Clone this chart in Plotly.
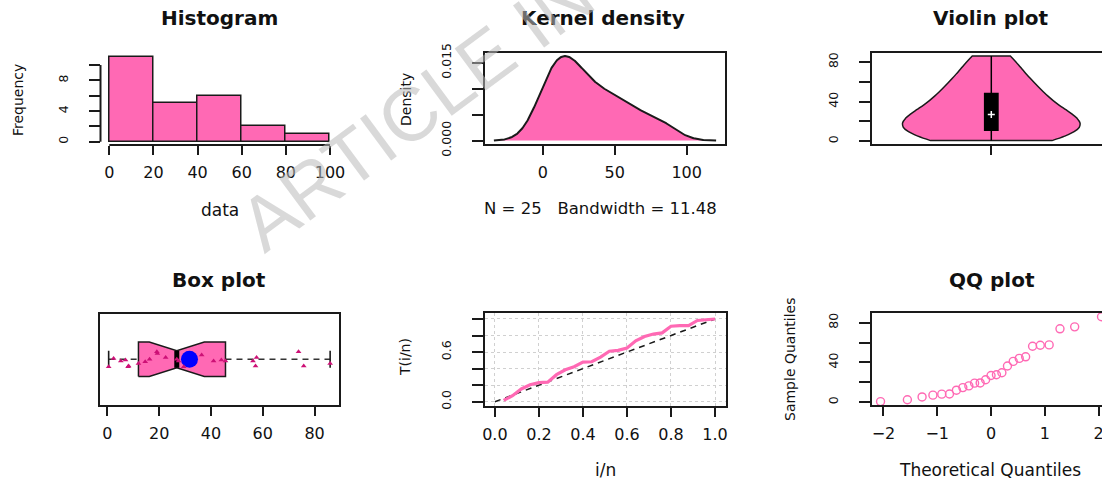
import numpy as np
import plotly.graph_objects as go
from statistics import NormalDist

# ---------------- data ----------------
values = [0.5, 2.4, 5.2, 7.0, 8.0, 8.2, 12.0, 14.6, 16.3, 19.1, 19.3, 22.5, 26.8,
          27.5, 29.5, 36.4, 41.0, 44.0, 45.6, 56.2, 57.2, 57.6, 73.8, 75.8, 86.0]
jitter = [-0.09, 0.01, -0.02, -0.01, -0.09, -0.08, -0.05, -0.03, 0.0, 0.09, 0.07,
          0.02, 0.0, -0.02, -0.09, 0.05, -0.02, -0.01, -0.02, -0.02, -0.08, 0.02,
          0.09, -0.08, -0.05]
bandwidth = 11.48
hist_edges = [0, 100, 20]
hist_xticks = [0, 20, 40, 60, 80, 100]
freq_ticks = [0, 2, 4, 6, 8, 10]
freq_labels = ["0", "", "4", "", "8", ""]
dens_xticks = [0, 50, 100]
dens_yticks = [0.0, 0.005, 0.010, 0.015]
dens_ylabels = ["0.000", "", "", "0.015"]
q_ticks = [0, 20, 40, 60, 80]
q_labels = ["0", "", "40", "", "80"]
box_xticks = [0, 20, 40, 60, 80]
ttt_xticks = [0.0, 0.2, 0.4, 0.6, 0.8, 1.0]
ttt_xlabels = ["0.0", "0.2", "0.4", "0.6", "0.8", "1.0"]
ttt_yticks = [0.0, 0.2, 0.4, 0.6, 0.8, 1.0]
ttt_ylabels = ["0.0", "", "", "0.6", "", ""]
qq_xticks = [-2, -1, 0, 1, 2]
diag = [0.0, 1.0]

PINK = "#FF69B4"
DARK = "#1a1a1a"
FONT = "DejaVu Sans"
W, H = 1102, 479

# ---------------- derived statistics ----------------
x = np.array(sorted(values))
n = len(x)
grid = np.linspace(x.min() - 3 * bandwidth, x.max() + 3 * bandwidth, 512)
dens = np.exp(-0.5 * ((grid[:, None] - x[None, :]) / bandwidth) ** 2).sum(axis=1) / (
    n * bandwidth * np.sqrt(2 * np.pi))

idx = np.arange(1, n + 1)
ttt_t = (np.cumsum(x) + (n - idx) * x) / x.sum()
ttt_p = idx / n

theo = np.array([NormalDist().inv_cdf((i - 0.5) / n) for i in idx])


def fivenum(v):
    v = np.sort(v)
    m = len(v)
    n4 = np.floor((m + 3) / 2) / 2
    d = np.array([1, n4, (m + 1) / 2, m + 1 - n4, m])
    return 0.5 * (v[np.floor(d).astype(int) - 1] + v[np.ceil(d).astype(int) - 1])


vmin, q1, med, q3, vmax = fivenum(x)
notch = 1.58 * (q3 - q1) / np.sqrt(n)
mean = x.mean()


def pad(lo, hi, f=0.04):
    d = (hi - lo) * f
    return [lo - d, hi + d]


# ---------------- pixel layout helpers ----------------
def dx(a, b):
    return [a / W, b / W]


def dy(top, bot):
    return [1 - bot / H, 1 - top / H]


def base_axis(**kw):
    a = dict(showgrid=False, zeroline=False, ticks="outside", ticklen=9, tickwidth=1.5,
             tickcolor=DARK, linecolor=DARK, linewidth=2, showline=True, automargin=False,
             tickfont=dict(family=FONT, size=16, color="#111"), fixedrange=True,
             ticklabelstandoff=4)
    a.update(kw)
    return a


def y_axis(**kw):
    a = base_axis(ticklen=11, tickangle=-90,
                  tickfont=dict(family=FONT, size=12.5, color="#111"), ticklabelstandoff=16)
    a.update(kw)
    return a


fig = go.Figure()

# 1 Histogram
fig.add_trace(go.Histogram(x=x, xbins=dict(start=hist_edges[0], end=hist_edges[1], size=hist_edges[2]),
                           marker=dict(color=PINK, line=dict(color=DARK, width=1.5)),
                           xaxis="x", yaxis="y", showlegend=False))
hist_xr = pad(0, 100)
hist_yr = pad(0, 11)
hist_dx, hist_dy = (100.5, 338.8), (54, 145.1)

# 2 Kernel density
fig.add_trace(go.Scatter(x=grid, y=dens, mode="lines", fill="tozeroy", fillcolor=PINK,
                         line=dict(color=DARK, width=2), xaxis="x2", yaxis="y2", showlegend=False))
dens_xr = pad(grid[0], grid[-1])
dens_yr = pad(0, dens.max())

# 3 Violin
fig.add_trace(go.Violin(y=x, x0=0, width=1, spanmode="hard", points=False,
                        fillcolor=PINK, line=dict(color=DARK, width=1.5), opacity=1,
                        box=dict(visible=True, width=0.075, fillcolor="black",
                                 line=dict(color="black", width=1.5)),
                        meanline=dict(visible=False),
                        xaxis="x3", yaxis="y3", showlegend=False, hoverinfo="skip"))
fig.add_trace(go.Scatter(x=[0], y=[med], mode="markers",
                         marker=dict(symbol="cross-thin", size=5, color="white",
                                     line=dict(color="white", width=1.5)),
                         xaxis="x3", yaxis="y3", showlegend=False))
vio_center_px, vio_half_px = 991.3, 88.7
vio_dx = (871.7, W)
vio_xr = [(vio_dx[0] - vio_center_px) / (2 * vio_half_px), (vio_dx[1] - vio_center_px) / (2 * vio_half_px)]
q_range = pad(x.min(), x.max())

# 4 Box plot (notched, horizontal)
h = 0.205
bx = [q1, med - notch, med, med + notch, q3, q3, med + notch, med, med - notch, q1, q1]
by = [1 - h, 1 - h, 1 - h / 2, 1 - h, 1 - h, 1 + h, 1 + h, 1 + h / 2, 1 + h, 1 + h, 1 - h]
fig.add_trace(go.Scatter(x=[vmin, q1, None, q3, vmax], y=[1, 1, None, 1, 1], mode="lines",
                         line=dict(color="#333", width=1.6, dash="6px,5px"),
                         xaxis="x4", yaxis="y4", showlegend=False))
fig.add_trace(go.Scatter(x=[vmin, vmin, None, vmax, vmax],
                         y=[1 - h / 2, 1 + h / 2, None, 1 - h / 2, 1 + h / 2], mode="lines",
                         line=dict(color=DARK, width=1.6), xaxis="x4", yaxis="y4", showlegend=False))
fig.add_trace(go.Scatter(x=bx, y=by, mode="lines", fill="toself", fillcolor=PINK,
                         line=dict(color=DARK, width=1.5), xaxis="x4", yaxis="y4", showlegend=False))
fig.add_trace(go.Scatter(x=[med, med], y=[1 - h / 2, 1 + h / 2], mode="lines",
                         line=dict(color="black", width=5), xaxis="x4", yaxis="y4", showlegend=False))
fig.add_trace(go.Scatter(x=[mean], y=[1], mode="markers",
                         marker=dict(color="#0000FF", size=17), xaxis="x4", yaxis="y4", showlegend=False))
fig.add_trace(go.Scatter(x=x, y=1 + np.array(jitter), mode="markers",
                         marker=dict(symbol="triangle-up", size=5, color="#CD1076"),
                         xaxis="x4", yaxis="y4", showlegend=False))

# 5 TTT plot
fig.add_trace(go.Scatter(x=diag, y=diag, mode="lines", line=dict(color=DARK, width=1.5, dash="6px,5px"),
                         xaxis="x5", yaxis="y5", showlegend=False))
fig.add_trace(go.Scatter(x=ttt_p, y=ttt_t, mode="lines", line=dict(color=PINK, width=3.2),
                         xaxis="x5", yaxis="y5", showlegend=False))

# 6 QQ plot
fig.add_trace(go.Scatter(x=theo, y=x, mode="markers",
                         marker=dict(symbol="circle-open", size=8, color=PINK, line=dict(width=1.4)),
                         xaxis="x6", yaxis="y6", showlegend=False, cliponaxis=False))
qq_dx = (871.7, W)
qq_px_per = 53.8
qq_xr = [-2.218, -2.218 + (qq_dx[1] - qq_dx[0]) / qq_px_per]

layout = dict(
    width=W, height=H, autosize=False, margin=dict(l=0, r=0, t=0, b=0, pad=0),
    paper_bgcolor="white", plot_bgcolor="white", bargap=0, showlegend=False,
    font=dict(family=FONT, color="#111"),
    xaxis=base_axis(domain=dx(*hist_dx), range=hist_xr, anchor="y", tickvals=hist_xticks,
                    showline=False),
    yaxis=y_axis(domain=dy(*hist_dy), range=hist_yr, anchor="x", tickvals=freq_ticks,
                 ticktext=freq_labels, showline=False),
    xaxis2=base_axis(domain=dx(485, 725), range=dens_xr, anchor="y2", tickvals=dens_xticks, mirror=True),
    yaxis2=y_axis(domain=dy(52.7, 144), range=dens_yr, anchor="x2", tickvals=dens_yticks,
                  ticktext=dens_ylabels, mirror=True),
    xaxis3=base_axis(domain=dx(*vio_dx), range=vio_xr, anchor="y3", tickvals=[0], ticktext=[""],
                     mirror=True, type="linear"),
    yaxis3=y_axis(domain=dy(52.7, 144), range=q_range, anchor="x3", tickvals=q_ticks, ticktext=q_labels),
    xaxis4=base_axis(domain=dx(99.8, 339), range=pad(x.min(), x.max()), anchor="y4",
                     tickvals=box_xticks, mirror=True),
    yaxis4=y_axis(domain=dy(314, 404.5), range=pad(0.5, 1.5), anchor="x4", ticks="",
                  showticklabels=False, mirror=True),
    xaxis5=base_axis(domain=dx(485, 726), range=[-0.045, 1.05], anchor="y5", tickvals=ttt_xticks,
                     ticktext=ttt_xlabels, mirror=True, showgrid=True, gridcolor="#d0d0d0",
                     griddash="dot", gridwidth=1.2),
    yaxis5=y_axis(domain=dy(312.7, 405.7), range=[-0.048, 1.076], anchor="x5", tickvals=ttt_yticks,
                  ticktext=ttt_ylabels, mirror=True, showgrid=True, gridcolor="#d0d0d0",
                  griddash="dot", gridwidth=1.2),
    xaxis6=base_axis(domain=dx(*qq_dx), range=qq_xr, anchor="y6", tickvals=qq_xticks, mirror=True,
                     ticklabeloverflow="allow"),
    yaxis6=y_axis(domain=dy(313.3, 405), range=q_range, anchor="x6", tickvals=q_ticks, ticktext=q_labels),
)


# R-style axis lines for the histogram (spanning only the tick range)
def map_lin(v, r, d):
    return d[0] + (v - r[0]) / (r[1] - r[0]) * (d[1] - d[0])


hx0 = map_lin(hist_xticks[0], hist_xr, hist_dx)
hx1 = map_lin(hist_xticks[-1], hist_xr, hist_dx)
hy0 = hist_dy[1] - (freq_ticks[0] - hist_yr[0]) / (hist_yr[1] - hist_yr[0]) * (hist_dy[1] - hist_dy[0])
hy1 = hist_dy[1] - (freq_ticks[-1] - hist_yr[0]) / (hist_yr[1] - hist_yr[0]) * (hist_dy[1] - hist_dy[0])
shapes = [
    dict(type="line", xref="paper", yref="paper", x0=hx0 / W, x1=hx1 / W,
         y0=1 - hist_dy[1] / H, y1=1 - hist_dy[1] / H, line=dict(color=DARK, width=2)),
    dict(type="line", xref="paper", yref="paper", x0=hist_dx[0] / W, x1=hist_dx[0] / W,
         y0=1 - hy0 / H, y1=1 - hy1 / H, line=dict(color=DARK, width=2)),
]
layout["shapes"] = shapes


def ann(text, px, py, size=16, angle=0, bold=False, color="#111", family=FONT):
    return dict(text=("<b>%s</b>" % text) if bold else text, x=px / W, y=1 - py / H,
                xref="paper", yref="paper", xanchor="center", yanchor="middle",
                showarrow=False, textangle=angle, font=dict(family=family, size=size, color=color))


NB = "\u00a0"
annotations = [
    ann("Histogram", 220, 18, 20, bold=True),
    ann("Kernel density", 603, 18, 20, bold=True),
    ann("Violin plot", 991, 18, 20, bold=True),
    ann("Box plot", 219, 280, 20, bold=True),
    ann("QQ plot", 991.7, 280, 20, bold=True),
    ann("data", 220, 210, 17),
    ann("Frequency", 18, 100, 14, angle=-90),
    ann("Density", 406, 100, 14, angle=-90),
    ann("N = %d%sBandwidth = %.2f" % (n, NB * 3, bandwidth), 600, 208, 16.5),
    ann("T(i/n)", 405, 357, 14, angle=-90),
    ann("i/n", 605, 470, 17),
    ann("Sample Quantiles", 790, 360, 14, angle=-90),
    ann("Theoretical Quantiles", 990, 470, 17),
    ann("ARTICLE IN PRESS", 528, 27, 76, angle=-36.5, color="rgba(185,185,185,0.55)",
        family="Liberation Sans"),
]
layout["annotations"] = annotations

fig.update_layout(**layout)
fig.write_html("out.html", config={"displayModeBar": False, "responsive": False},
               post_script="document.body.style.margin='0';document.body.style.overflow='hidden';")
